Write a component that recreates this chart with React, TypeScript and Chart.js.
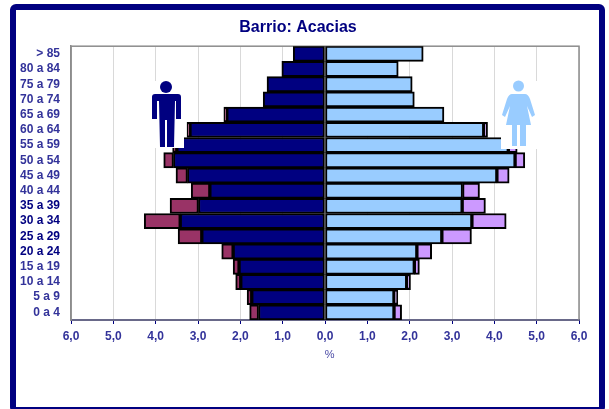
import React, { useEffect, useRef } from "react";
import { Chart, registerables } from "chart.js";

Chart.register(...registerables);

const ageGroups = ["> 85","80 a 84","75 a 79","70 a 74","65 a 69","60 a 64","55 a 59","50 a 54","45 a 49","40 a 44","35 a 39","30 a 34","25 a 29","20 a 24","15 a 19","10 a 14","5 a 9","0 a 4"];
const menInner = [0.75,1.02,1.37,1.46,2.32,3.19,3.5,3.58,3.25,2.72,2.99,3.42,2.91,2.17,2.03,1.99,1.73,1.57];
const menOuter = [0.75,1.02,1.37,1.46,2.39,3.26,3.6,3.81,3.52,3.16,3.66,4.27,3.47,2.44,2.17,2.11,1.84,1.78];
const womenInner = [2.32,1.73,2.06,2.11,2.81,3.75,4.33,4.49,4.06,3.25,3.24,3.47,2.76,2.17,2.11,1.93,1.63,1.63];
const womenOuter = [2.32,1.73,2.06,2.11,2.81,3.84,4.54,4.72,4.35,3.65,3.79,4.28,3.46,2.52,2.23,2.02,1.72,1.81];
const boldLabels = ["35 a 39","30 a 34","25 a 29","20 a 24"];

const NAVY = "#000080";
const LABEL = "#33339a";

function drawMan(ctx: CanvasRenderingContext2D) {
  ctx.save();
  ctx.fillStyle = "#fff";
  ctx.fillRect(149, 81, 35, 67);
  ctx.fillStyle = NAVY;
  ctx.beginPath(); ctx.arc(166, 87, 6, 0, Math.PI * 2); ctx.fill();
  ctx.beginPath();
  ctx.moveTo(155, 94); ctx.lineTo(178, 94); ctx.quadraticCurveTo(181, 94, 181, 97);
  ctx.lineTo(181, 119); ctx.lineTo(176, 119); ctx.lineTo(176, 101); ctx.lineTo(175, 101);
  ctx.lineTo(174, 147); ctx.lineTo(167, 147); ctx.lineTo(167, 120); ctx.lineTo(165, 120);
  ctx.lineTo(165, 147); ctx.lineTo(160, 147); ctx.lineTo(159, 101); ctx.lineTo(157, 101);
  ctx.lineTo(157, 119); ctx.lineTo(152, 119); ctx.lineTo(152, 97); ctx.quadraticCurveTo(152, 94, 155, 94);
  ctx.closePath(); ctx.fill();
  ctx.restore();
}

function drawWoman(ctx: CanvasRenderingContext2D) {
  ctx.save();
  ctx.fillStyle = "#fff";
  ctx.fillRect(501, 81, 37, 68);
  ctx.fillStyle = "#99ccff";
  ctx.beginPath(); ctx.arc(518.5, 86, 5.5, 0, Math.PI * 2); ctx.fill();
  ctx.beginPath();
  ctx.moveTo(512, 94); ctx.lineTo(525, 94); ctx.quadraticCurveTo(528, 94, 530, 99);
  ctx.lineTo(535, 115); ctx.lineTo(532, 117); ctx.lineTo(527, 106);
  ctx.lineTo(531, 125); ctx.lineTo(526, 125); ctx.lineTo(526, 146); ctx.lineTo(520, 146); ctx.lineTo(520, 125);
  ctx.lineTo(517, 125); ctx.lineTo(517, 146); ctx.lineTo(512, 146); ctx.lineTo(512, 125); ctx.lineTo(506, 125);
  ctx.lineTo(510, 106); ctx.lineTo(505, 117); ctx.lineTo(502, 115); ctx.lineTo(507, 99);
  ctx.quadraticCurveTo(509, 94, 512, 94);
  ctx.closePath(); ctx.fill();
  ctx.restore();
}

const decorations = {
  id: "decorations",
  beforeDraw(chart: any) {
    const { ctx } = chart;
    ctx.save();
    ctx.fillStyle = "#fff";
    ctx.fillRect(0, 0, 609, 409);
    ctx.strokeStyle = NAVY;
    ctx.lineWidth = 6;
    ctx.beginPath();
    ctx.roundRect(13, 7, 589, 403, 3);
    ctx.stroke();
    ctx.restore();
  },
  beforeDatasetsDraw(chart: any) {
    const { ctx, chartArea: a } = chart;
    ctx.save();
    ctx.strokeStyle = "#8c8c8c";
    ctx.lineWidth = 1.5;
    ctx.strokeRect(a.left, a.top, a.right - a.left, a.bottom - a.top);
    ctx.restore();
  },
  afterDraw(chart: any) {
    drawMan(chart.ctx);
    drawWoman(chart.ctx);
  },
};

const minus = (a: number[], b: number[]) => a.map((v, i) => v - b[i]);
const bar = { borderColor: "#000", borderWidth: 2, borderSkipped: false as const, barPercentage: 1, categoryPercentage: 1 };

export default function App() {
  const ref = useRef<HTMLCanvasElement>(null);
  useEffect(() => {
    const chart = new Chart(ref.current!, {
      type: "bar",
      data: {
        labels: ageGroups,
        datasets: [
          { label: "Hombres", data: menInner.map((v) => -v), backgroundColor: NAVY, ...bar, order: 1 },
          { label: "Hombres exceso", data: minus(menInner, menOuter), backgroundColor: "#993366", ...bar, order: 2 },
          { label: "Mujeres", data: womenInner, backgroundColor: "#99ccff", ...bar, order: 1 },
          { label: "Mujeres exceso", data: minus(womenOuter, womenInner), backgroundColor: "#cc99ff", ...bar, order: 2 },
        ],
      },
      options: {
        indexAxis: "y",
        responsive: false,
        animation: false,
        layout: { padding: { left: 17, right: 30, top: 0, bottom: 0 } },
        plugins: {
          legend: { display: false },
          tooltip: { enabled: false },
          title: {
            display: true,
            text: "Barrio: Acacias",
            color: NAVY,
            font: { family: "Liberation Sans", size: 16, weight: "bold" },
            padding: { top: 18, bottom: 9 },
          },
        },
        scales: {
          x: {
            stacked: true,
            min: -6,
            max: 6,
            afterFit: (s: any) => { s.height = 89; },
            ticks: {
              stepSize: 1,
              autoSkip: false,
              maxRotation: 0,
              color: LABEL,
              padding: 5,
              font: { family: "Liberation Sans", size: 12, weight: "bold" },
              callback: (v: any) => Math.abs(Number(v)).toFixed(1).replace(".", ","),
            },
            grid: { color: "#d9d9d9", lineWidth: 1, tickColor: NAVY, tickLength: 4, drawOnChartArea: true },
            border: { color: NAVY, width: 2 },
            title: {
              display: true,
              text: "   %",
              color: "#4a4aa5",
              padding: { top: 0, bottom: 47 },
              font: { family: "Liberation Sans", size: 11 },
            },
          },
          y: {
            stacked: true,
            afterFit: (s: any) => { s.width = 54; },
            grid: { display: false, drawTicks: false },
            border: { color: "#8c8c8c", width: 1.5 },
            ticks: {
              autoSkip: false,
              padding: 11,
              color: (c: any) => (boldLabels.includes(ageGroups[c.index]) ? NAVY : LABEL),
              font: { family: "Liberation Sans", size: 12, weight: "bold" },
            },
          },
        },
      },
      plugins: [decorations],
    } as any);
    return () => chart.destroy();
  }, []);
  return (
    <div style={{ position: "fixed", left: 0, top: 0, width: 609, height: 409, overflow: "hidden", background: "#fff" }}>
      <canvas ref={ref} width={609} height={409} style={{ display: "block" }} />
    </div>
  );
}
